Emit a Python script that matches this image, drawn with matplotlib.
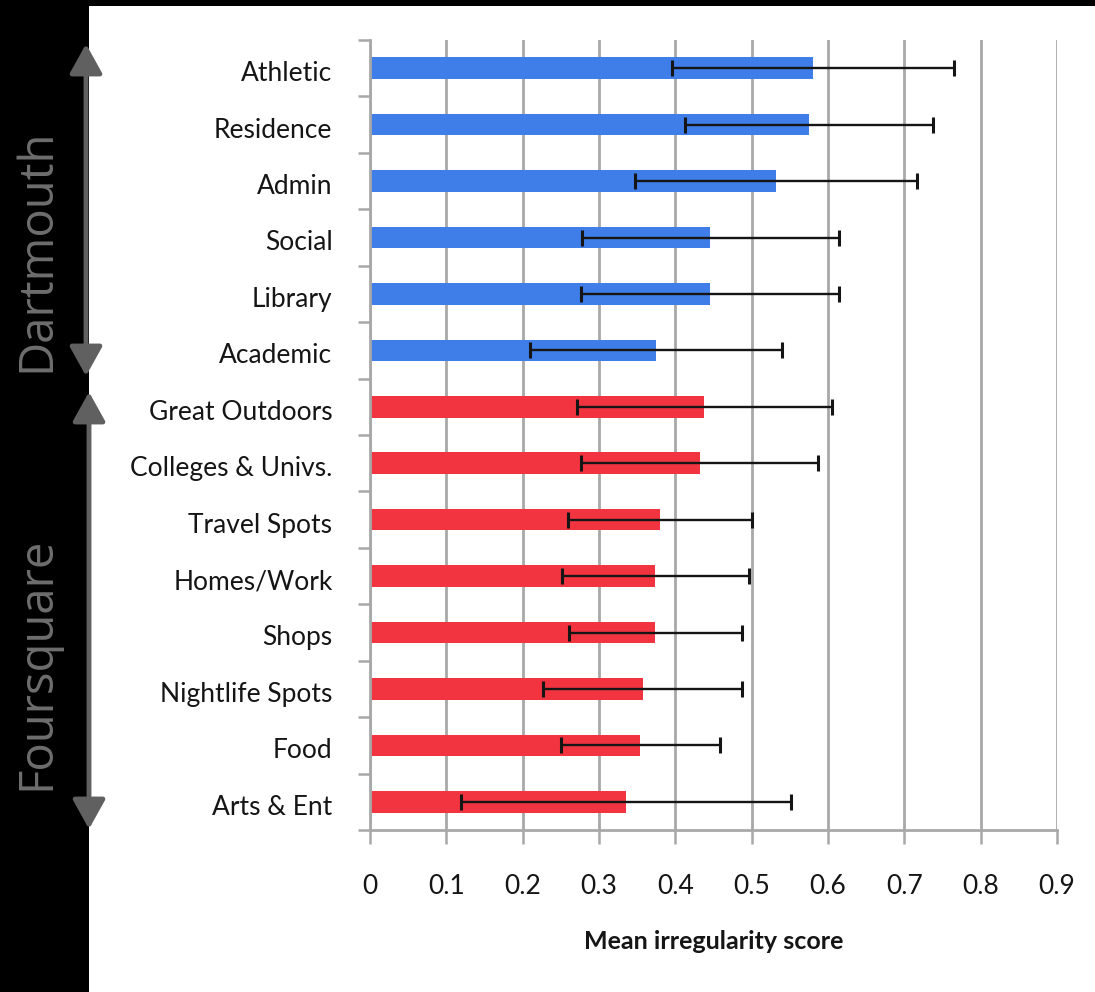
import matplotlib
matplotlib.use("Agg")
import matplotlib.pyplot as plt
import matplotlib.transforms as mtransforms
import numpy as np
from matplotlib.patches import Rectangle, FancyArrowPatch

# categories top to bottom
dart_cats = ["Athletic", "Residence", "Admin", "Social", "Library", "Academic"]
dart_mean = [0.580, 0.575, 0.532, 0.446, 0.445, 0.375]
dart_err = [0.185, 0.162, 0.185, 0.168, 0.169, 0.165]

four_cats = ["Great Outdoors", "Colleges & Univs.", "Travel Spots", "Homes/Work",
             "Shops", "Nightlife Spots", "Food", "Arts & Ent"]
four_mean = [0.438, 0.432, 0.380, 0.374, 0.374, 0.357, 0.354, 0.335]
four_err = [0.167, 0.155, 0.120, 0.123, 0.113, 0.130, 0.104, 0.216]

xticks = [0, 0.1, 0.2, 0.3, 0.4, 0.5, 0.6, 0.7, 0.8, 0.9]
xtick_labels = ["0", "0.1", "0.2", "0.3", "0.4", "0.5", "0.6", "0.7", "0.8", "0.9"]

blue = "#3f7de8"
red = "#f23440"
grid_gray = "#a8a8a8"

plt.rcParams["font.family"] = ["Lato", "DejaVu Sans"]

W, H = 1095, 992
fig = plt.figure(figsize=(W / 100, H / 100), dpi=100)
fig.patch.set_facecolor("black")

# white panel
fig.patches.append(Rectangle((89 / W, 0), 1 - 89 / W, 1 - 6 / H,
                             transform=fig.transFigure, facecolor="white",
                             edgecolor="none", zorder=-5))

ax = fig.add_axes([370 / W, 1 - 830 / H, (1057 - 370) / W, (830 - 40) / H])
ax.set_facecolor("none")
ax.set_zorder(2)

cats = dart_cats + four_cats
means = dart_mean + four_mean
errs = dart_err + four_err
colors = [blue] * len(dart_cats) + [red] * len(four_cats)
y = np.arange(len(cats))

ax.barh(y, means, height=0.38, color=colors, zorder=2)
ax.errorbar(means, y, xerr=errs, fmt="none", ecolor="#151515", elinewidth=1.7,
            capsize=6, capthick=2.2, zorder=3)

ax.set_ylim(len(cats) - 0.5, -0.5)
ax.set_xlim(0, 0.9)

ax.set_yticks(y)
ax.set_yticklabels(cats, fontsize=19, color="#151515")
ax.set_yticks(np.arange(len(cats) + 1) - 0.5, minor=True)
ax.tick_params(axis="y", which="major", length=0, pad=27)
ax.tick_params(axis="y", which="minor", length=9, width=1.8, color=grid_gray)
shift = mtransforms.ScaledTranslation(0, -3 / 100, fig.dpi_scale_trans)
for lab in ax.get_yticklabels():
    lab.set_transform(lab.get_transform() + shift)

ax.set_xticks(xticks)
ax.set_xticklabels(xtick_labels, fontsize=19, color="#151515")
ax.tick_params(axis="x", which="major", length=10, width=1.8, color=grid_gray, pad=22)
ax.set_xlabel("Mean irregularity score", fontsize=18, fontweight="bold",
              color="#151515", labelpad=22)

ax.xaxis.grid(True, color=grid_gray, linewidth=2, zorder=1)
ax.set_axisbelow(True)
for s in ["top", "right"]:
    ax.spines[s].set_visible(False)
for s in ["left", "bottom"]:
    ax.spines[s].set_color(grid_gray)
    ax.spines[s].set_linewidth(2)

# group labels and arrows on the left
fig.text(37 / W, 1 - 250 / H, "Dartmouth", rotation=90, ha="center", va="center",
         fontsize=34, color="#6e6e6e", family=["Open Sans", "DejaVu Sans"])
fig.text(37 / W, 1 - 663 / H, "Foursquare", rotation=90, ha="center", va="center",
         fontsize=34, color="#6e6e6e", family=["Open Sans", "DejaVu Sans"])

arrow_style = dict(arrowstyle="<|-|>,head_length=0.9,head_width=0.5",
                   color="#606060", lw=3.5, shrinkA=0, shrinkB=0)
fig.add_artist(FancyArrowPatch(
    (86 / W, 1 - 44 / H), (86 / W, 1 - 376 / H), transform=fig.transFigure,
    mutation_scale=20, **arrow_style))
fig.add_artist(FancyArrowPatch(
    (89 / W, 1 - 392 / H), (89 / W, 1 - 829 / H), transform=fig.transFigure,
    mutation_scale=20, **arrow_style))

fig.savefig("out.png", dpi=100, facecolor=fig.get_facecolor())
